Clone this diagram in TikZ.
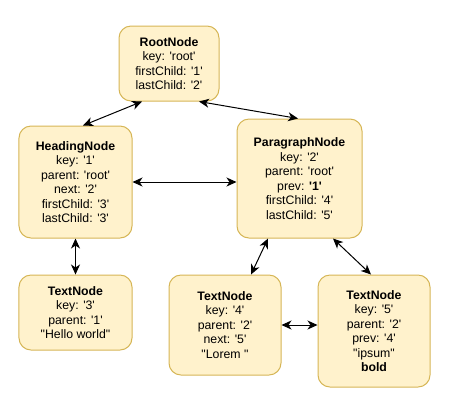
\documentclass[tikz,border=0pt]{standalone}
\usepackage{fontspec}
\newfontfamily\hel{Liberation Sans}
\usetikzlibrary{arrows.meta,calc}
\definecolor{boxfill}{HTML}{FFF2CC}
\definecolor{boxdraw}{HTML}{D6B656}
\begin{document}
\begin{tikzpicture}[x=1bp,y=-1bp,
  box/.style={draw=boxdraw, fill=boxfill, line width=1bp, rounded corners=12bp,
    align=center, font=\hel\fontsize{12.3bp}{14.5bp}\selectfont, inner sep=0pt},
  link/.style={line width=1bp, {Stealth[length=10bp,width=9bp,inset=3bp]}-{Stealth[length=10bp,width=9bp,inset=3bp]}}]
\useasboundingbox (0,0) rectangle (452,403);
\node[box, minimum width=100bp, minimum height=75bp] (root) at (169,63.5)
  {\textbf{RootNode}\\key: 'root'\\firstChild: '1'\\lastChild: '2'};
\node[box, minimum width=113bp, minimum height=112bp] (head) at (75.5,182)
  {\textbf{HeadingNode}\\key: '1'\\parent: 'root'\\next: '2'\\firstChild: '3'\\lastChild: '3'};
\node[box, minimum width=125bp, minimum height=119bp] (para) at (299.5,178.5)
  {\textbf{ParagraphNode}\\key: '2'\\parent: 'root'\\prev: \textbf{'1'}\\firstChild: '4'\\lastChild: '5'};
\node[box, minimum width=113bp, minimum height=75bp] (t3) at (75.5,312.5)
  {\textbf{TextNode}\\key: '3'\\parent: '1'\\"Hello world"};
\node[box, minimum width=112bp, minimum height=100bp] (t4) at (225,325)
  {\textbf{TextNode}\\key: '4'\\parent: '2'\\next: '5'\\"Lorem\ "};
\node[box, minimum width=112bp, minimum height=112bp] (t5) at (374,331)
  {\textbf{TextNode}\\key: '5'\\parent: '2'\\prev: '4'\\"ipsum"\\\textbf{bold}};
\draw[link] ([xshift=7.5bp]head.north) -- ([xshift=-27bp]root.south);
\draw[link] ([xshift=30bp]root.south) -- ([xshift=-1.5bp]para.north);
\draw[link] (head.east) -- (head.east -| para.west);
\draw[link] (head.south) -- (t3.north);
\draw[link] ([xshift=-31.5bp]para.south) -- ([xshift=26bp]t4.north);
\draw[link] ([xshift=33.5bp]para.south) -- ([xshift=-3bp]t5.north);
\draw[link] (t4.east) -- (t4.east -| t5.west);
\end{tikzpicture}
\end{document}
